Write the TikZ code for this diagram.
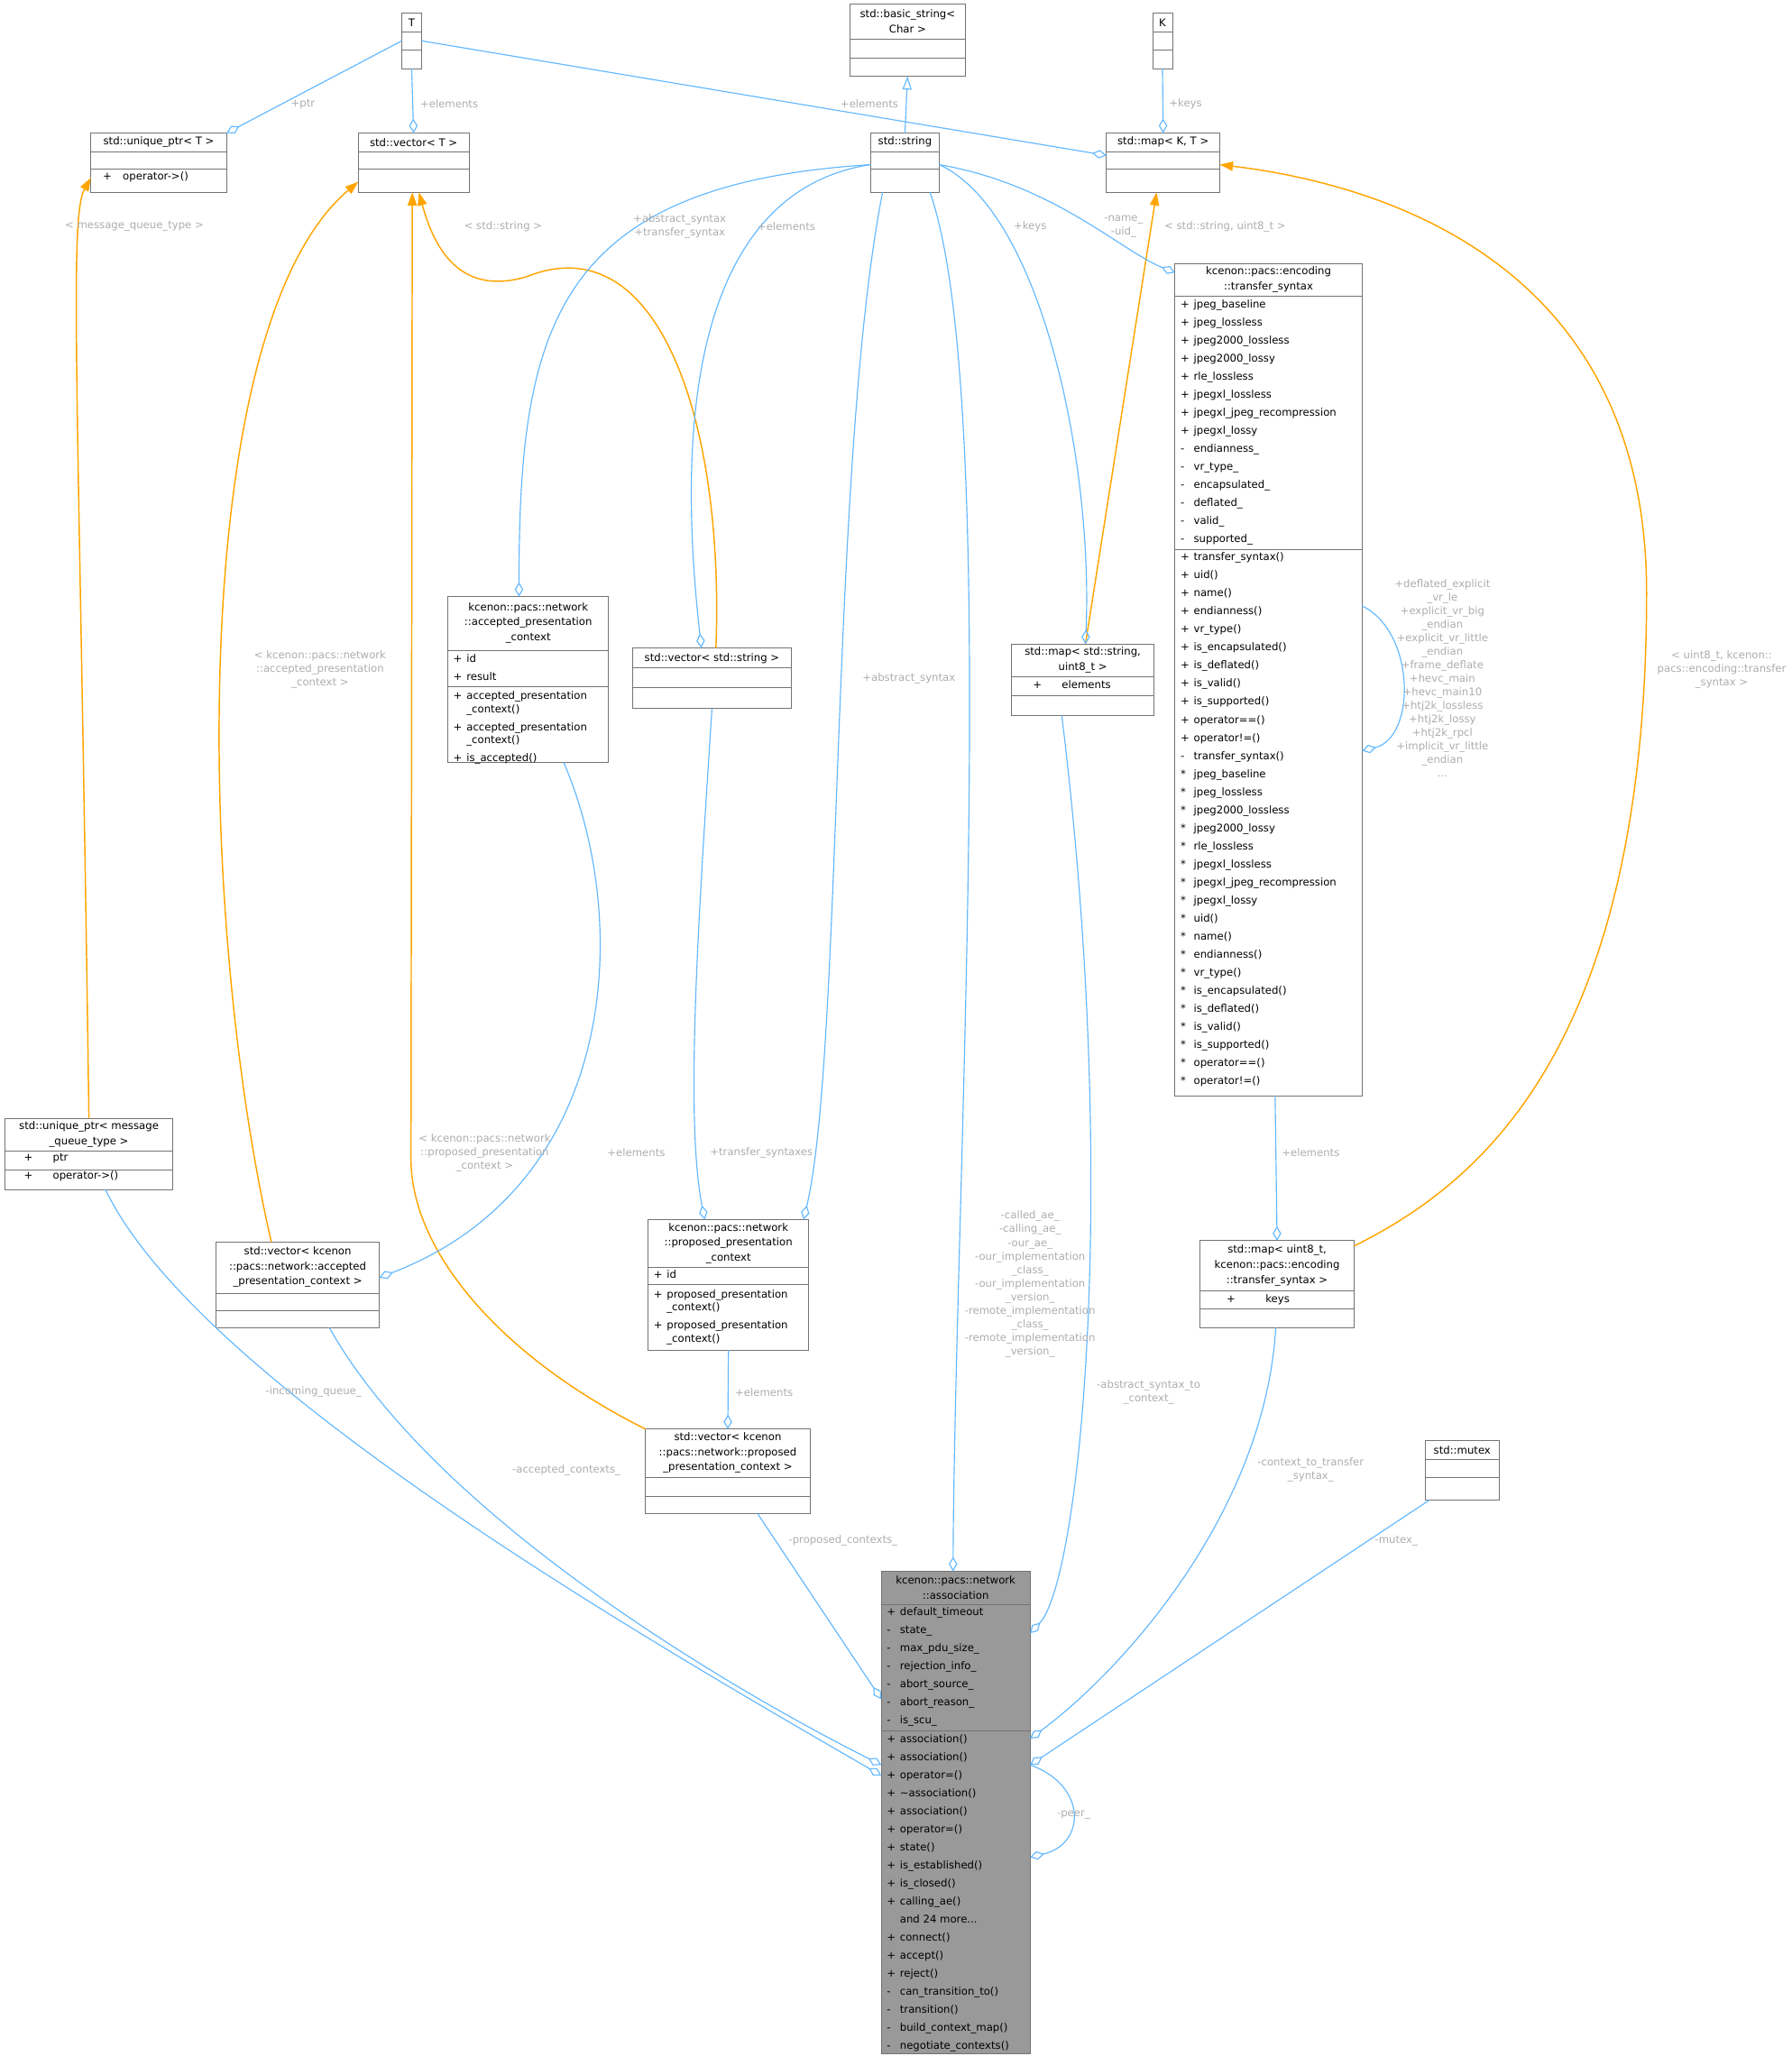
\documentclass[tikz,border=0pt]{standalone}
\usepackage{fontspec}
\setmainfont{DejaVu Sans}
\usetikzlibrary{arrows.meta}
\definecolor{edgeblue}{RGB}{99,184,255}
\definecolor{tmplorange}{RGB}{255,165,0}
\tikzset{box/.style={draw=black!55,line width=0.6pt,inner sep=0pt,outer sep=0pt,fill=white},
	ttl/.style={align=center,inner sep=0pt,font=\fontsize{8}{11.5}\selectfont},
	mem/.style={align=left,inner sep=0pt,anchor=north west,font=\fontsize{8}{13.7}\selectfont},
	lbl/.style={align=center,inner sep=0pt,text=black!32,font=\fontsize{8}{10.3}\selectfont},
	agg/.style={draw=edgeblue,line width=0.8pt,-{Diamond[open,length=11pt,width=6.5pt]}},
	tmpl/.style={draw=tmplorange,line width=1pt,-{Triangle[length=10pt,width=7pt]}},
	inh/.style={draw=edgeblue,line width=0.8pt,-{Triangle[open,length=10pt,width=7pt]}}}
\newcommand\ukls[5]{\node[box,minimum width={(#4-#2)*1pt},minimum height={(#5-#3)*1pt}] (#1) at ({(#2+#4)/2},{(#3+#5)/2}) {};}
\newcommand\ttl[4]{\node[ttl] at ({(#1+#2)/2},{#3}) {#4};}
\newcommand\sep[3]{\draw[black!55,line width=0.6pt] (#1,#3) -- (#2,#3);}
\newcommand\mem[3]{\node[mem] at (#1,{#2+2.5}) {#3};}
\newcommand\m[2]{\makebox[10pt][l]{#1}#2}
\begin{document}
\begin{tikzpicture}[x=1pt,y=-1pt]
\useasboundingbox (0,0) rectangle (1360,1561);
% classes
\ukls{T}{305}{10}{320}{52}\ttl{305}{320}{17}{T}\sep{305}{320}{24}\sep{305}{320}{38}
\ukls{bstr}{645}{3}{733}{58}\ttl{645}{733}{16}{std::basic\_string<\\Char >}\sep{645}{733}{30}\sep{645}{733}{44}
\ukls{K}{875}{10}{890}{52}\ttl{875}{890}{17}{K}\sep{875}{890}{24}\sep{875}{890}{38}
\ukls{uptr}{69}{101}{172}{146}\ttl{69}{172}{108}{std::unique\_ptr< T >}\sep{69}{172}{115}\sep{69}{172}{128}
\mem{78}{128}{\m{+}{\ \ operator->()}}
\ukls{vecT}{272}{101}{356}{146}\ttl{272}{356}{108}{std::vector< T >}\sep{272}{356}{115}\sep{272}{356}{128}
\ukls{str}{661}{101}{713}{146}\ttl{661}{713}{108}{std::string}\sep{661}{713}{115}\sep{661}{713}{128}
\ukls{mapKT}{840}{101}{926}{146}\ttl{840}{926}{108}{std::map< K, T >}\sep{840}{926}{115}\sep{840}{926}{128}
\ukls{ts}{892}{200}{1034}{832}\ttl{892}{1034}{212}{kcenon::pacs::encoding\\::transfer\_syntax}\sep{892}{1034}{225}\sep{892}{1034}{417}
\mem{896}{225}{\m{+}{jpeg\_baseline}\\\m{+}{jpeg\_lossless}\\\m{+}{jpeg2000\_lossless}\\\m{+}{jpeg2000\_lossy}\\\m{+}{rle\_lossless}\\\m{+}{jpegxl\_lossless}\\\m{+}{jpegxl\_jpeg\_recompression}\\\m{+}{jpegxl\_lossy}\\\m{-}{endianness\_}\\\m{-}{vr\_type\_}\\\m{-}{encapsulated\_}\\\m{-}{deflated\_}\\\m{-}{valid\_}\\\m{-}{supported\_}}
\mem{896}{417}{\m{+}{transfer\_syntax()}\\\m{+}{uid()}\\\m{+}{name()}\\\m{+}{endianness()}\\\m{+}{vr\_type()}\\\m{+}{is\_encapsulated()}\\\m{+}{is\_deflated()}\\\m{+}{is\_valid()}\\\m{+}{is\_supported()}\\\m{+}{operator==()}\\\m{+}{operator!=()}\\\m{-}{transfer\_syntax()}\\\m{*}{jpeg\_baseline}\\\m{*}{jpeg\_lossless}\\\m{*}{jpeg2000\_lossless}\\\m{*}{jpeg2000\_lossy}\\\m{*}{rle\_lossless}\\\m{*}{jpegxl\_lossless}\\\m{*}{jpegxl\_jpeg\_recompression}\\\m{*}{jpegxl\_lossy}\\\m{*}{uid()}\\\m{*}{name()}\\\m{*}{endianness()}\\\m{*}{vr\_type()}\\\m{*}{is\_encapsulated()}\\\m{*}{is\_deflated()}\\\m{*}{is\_valid()}\\\m{*}{is\_supported()}\\\m{*}{operator==()}\\\m{*}{operator!=()}}
\ukls{acc}{340}{453}{462}{579}\ttl{340}{462}{473}{kcenon::pacs::network\\::accepted\_presentation\\\_context}\sep{340}{462}{494}\sep{340}{462}{521}
\mem{344}{494}{\m{+}{id}\\\m{+}{result}}
\node[mem,font=\fontsize{8}{10}\selectfont] at (344,525) {\m{+}{accepted\_presentation}\\\m{}{\_context()}\\[3.5pt]\m{+}{accepted\_presentation}\\\m{}{\_context()}\\[3.5pt]\m{+}{is\_accepted()}};
\ukls{vecstr}{480}{492}{601}{538}\ttl{480}{601}{500}{std::vector< std::string >}\sep{480}{601}{507}\sep{480}{601}{522}
\ukls{maps}{768}{489}{876}{543}\ttl{768}{876}{501}{std::map< std::string,\\uint8\_t >}\sep{768}{876}{514}\sep{768}{876}{528}
\mem{784}{514}{+\ \ \ \ \ \ elements}
\ukls{uptrmq}{4}{849}{131}{903}\ttl{4}{131}{861}{std::unique\_ptr< message\\\_queue\_type >}\sep{4}{131}{874}\sep{4}{131}{888}
\mem{18}{873}{+\ \ \ \ \ \ ptr\\+\ \ \ \ \ \ operator->()}
\ukls{vecacc}{164}{943}{288}{1008}\ttl{164}{288}{962}{std::vector< kcenon\\::pacs::network::accepted\\\_presentation\_context >}\sep{164}{288}{982}\sep{164}{288}{995}
\ukls{prop}{492}{926}{614}{1025}\ttl{492}{614}{944}{kcenon::pacs::network\\::proposed\_presentation\\\_context}\sep{492}{614}{962}\sep{492}{614}{975}
\mem{496}{962}{\m{+}{id}}
\node[mem,font=\fontsize{8}{10}\selectfont] at (496,979) {\m{+}{proposed\_presentation}\\\m{}{\_context()}\\[3.5pt]\m{+}{proposed\_presentation}\\\m{}{\_context()}};
\ukls{mapu}{911}{942}{1028}{1008}\ttl{911}{1028}{961}{std::map< uint8\_t,\\kcenon::pacs::encoding\\::transfer\_syntax >}\sep{911}{1028}{980}\sep{911}{1028}{994}
\mem{931}{980}{+\ \ \ \ \ \ \ \ \ keys}
\ukls{vecprop}{490}{1085}{615}{1149}\ttl{490}{615}{1103}{std::vector< kcenon\\::pacs::network::proposed\\\_presentation\_context >}\sep{490}{615}{1122}\sep{490}{615}{1136}
\ukls{mtx}{1082}{1094}{1138}{1139}\ttl{1082}{1138}{1101}{std::mutex}\sep{1082}{1138}{1108}\sep{1082}{1138}{1122}
\node[box,fill=black!40,minimum width=113pt,minimum height=366pt] (asc) at (725.5,1376) {};
\ttl{669}{782}{1205.5}{kcenon::pacs::network\\::association}\sep{669}{782}{1218}\sep{669}{782}{1314}
\mem{673}{1218}{\m{+}{default\_timeout}\\\m{-}{state\_}\\\m{-}{max\_pdu\_size\_}\\\m{-}{rejection\_info\_}\\\m{-}{abort\_source\_}\\\m{-}{abort\_reason\_}\\\m{-}{is\_scu\_}}
\mem{673}{1314}{\m{+}{association()}\\\m{+}{association()}\\\m{+}{operator=()}\\\m{+}{\textasciitilde association()}\\\m{+}{association()}\\\m{+}{operator=()}\\\m{+}{state()}\\\m{+}{is\_established()}\\\m{+}{is\_closed()}\\\m{+}{calling\_ae()}\\\m{}{and 24 more...}\\\m{+}{connect()}\\\m{+}{accept()}\\\m{+}{reject()}\\\m{-}{can\_transition\_to()}\\\m{-}{transition()}\\\m{-}{build\_context\_map()}\\\m{-}{negotiate\_contexts()}}
% connectors
\draw[agg] (T.west) -- (uptr.north east);
\draw[agg] (T.south) -- (vecT.north);
\draw[agg] (T.east) -- ([yshift=-17pt]mapKT.north west);
\draw[inh] (str.north) -- (bstr.south);
\draw[agg] (K.south) -- (mapKT.north);
\draw[tmpl] (uptrmq.north) .. controls (60,300) and (52,165) .. ([yshift=-34pt]uptr.north west);
\draw[tmpl] ([xshift=-20pt]vecacc.north) .. controls (150,700) and (140,250) .. ([yshift=-37pt]vecT.north west);
\draw[tmpl] (vecprop.north west) .. controls (380,1030) and (312,950) .. (312,880) -- ([xshift=-1pt]vecT.south);
\draw[tmpl] ([xshift=3pt]vecstr.north) .. controls (550,320) and (500,170) .. (400,210) .. controls (350,225) and (330,190) .. ([xshift=4pt]vecT.south);
\draw[tmpl] ([xshift=2pt]maps.north) -- ([xshift=-5pt]mapKT.south);
\draw[tmpl] ([yshift=-4pt]mapu.north east) .. controls (1120,900) and (1250,800) .. (1250,450) .. controls (1250,200) and (1050,140) .. ([yshift=-24pt]mapKT.north east);
\draw[agg] ([yshift=-24pt]str.north west) .. controls (420,140) and (394,250) .. ([xshift=-7pt]acc.north);
\draw[agg] ([yshift=-24pt]str.north west) .. controls (560,140) and (505,250) .. ([xshift=-8pt]vecstr.north);
\draw[agg] ([xshift=9pt]str.south west) .. controls (630,350) and (640,800) .. ([xshift=-4pt]prop.north east);
\draw[agg] ([xshift=-7pt]str.south east) .. controls (760,300) and (725,900) .. ([xshift=-2pt]asc.north);
\draw[agg] ([yshift=-24pt]str.north east) .. controls (790,160) and (830,350) .. ([xshift=2pt]maps.north);
\draw[agg] ([yshift=-24pt]str.north east) .. controls (800,140) and (850,190) .. ([yshift=-7pt]ts.north west);
\draw[agg] ([yshift=-260pt]ts.north east) .. controls (1075,480) and (1075,560) .. ([yshift=-370pt]ts.north east);
\draw[agg] ([xshift=5pt]ts.south) -- (mapu.north);
\draw[agg] (vecstr.south) .. controls (530,700) and (520,850) .. ([xshift=-18pt]prop.north);
\draw[agg] ([xshift=27pt]acc.south) .. controls (480,700) and (470,900) .. ([yshift=-27pt]vecacc.north east);
\draw[agg] (prop.south) -- (vecprop.north);
\draw[agg] ([xshift=76pt]uptrmq.south west) .. controls (150,1050) and (500,1250) .. ([yshift=-155pt]asc.north west);
\draw[agg] ([xshift=-38pt]vecacc.south east) .. controls (330,1150) and (550,1280) .. ([yshift=-147pt]asc.north west);
\draw[agg] ([xshift=-40pt]vecprop.south east) -- ([yshift=-97pt]asc.north west);
\draw[agg] ([xshift=-16pt]maps.south) .. controls (850,900) and (820,1200) .. ([yshift=-47pt]asc.north east);
\draw[agg] ([xshift=-1pt]mapu.south) .. controls (960,1150) and (850,1270) .. ([yshift=-127pt]asc.north east);
\draw[agg] ([xshift=3pt]mtx.south west) -- ([yshift=-147pt]asc.north east);
\draw[agg] ([yshift=-147pt]asc.north east) .. controls (825,1355) and (825,1400) .. ([yshift=-217pt]asc.north east);
% labels
\node[lbl] (lptr) at (230,79) {+ptr};
\node[lbl] (lel1) at (341,79) {+elements};
\node[lbl] (lel2) at (660,79) {+elements};
\node[lbl] (lkeys1) at (900,79) {+keys};
\node[lbl] (lmq) at (102,172) {< message\_queue\_type >};
\node[lbl] (lstrt) at (382,172) {< std::string >};
\node[lbl] (labs) at (516,172) {+abstract\_syntax\\+transfer\_syntax};
\node[lbl] (lel3) at (597,172) {+elements};
\node[lbl] (lkeys2) at (782,172) {+keys};
\node[lbl] (lname) at (853,172) {-name\_\\-uid\_};
\node[lbl] (lsu) at (930,172) {< std::string, uint8\_t >};
\node[lbl] (lacct) at (243,508) {< kcenon::pacs::network\\::accepted\_presentation\\\_context >};
\node[lbl] (labs2) at (690,515) {+abstract\_syntax};
\node[lbl] (lloop) at (1095,515) {+deflated\_explicit\\\_vr\_le\\+explicit\_vr\_big\\\_endian\\+explicit\_vr\_little\\\_endian\\+frame\_deflate\\+hevc\_main\\+hevc\_main10\\+htj2k\_lossless\\+htj2k\_lossy\\+htj2k\_rpcl\\+implicit\_vr\_little\\\_endian\\...};
\node[lbl] (lut) at (1307,508) {< uint8\_t, kcenon::\\pacs::encoding::transfer\\\_syntax >};
\node[lbl] (lpropt) at (368,875) {< kcenon::pacs::network\\::proposed\_presentation\\\_context >};
\node[lbl] (lel4) at (483,875) {+elements};
\node[lbl] (ltsx) at (578,875) {+transfer\_syntaxes};
\node[lbl] (lel5) at (995,875) {+elements};
\node[lbl] (lae) at (782,975) {-called\_ae\_\\-calling\_ae\_\\-our\_ae\_\\-our\_implementation\\\_class\_\\-our\_implementation\\\_version\_\\-remote\_implementation\\\_class\_\\-remote\_implementation\\\_version\_};
\node[lbl] (lel6) at (580,1057) {+elements};
\node[lbl] (linq) at (238,1057) {-incoming\_queue\_};
\node[lbl] (lastc) at (872,1057) {-abstract\_syntax\_to\\\_context\_};
\node[lbl] (lacc) at (430,1116) {-accepted\_contexts\_};
\node[lbl] (lctx) at (995,1116) {-context\_to\_transfer\\\_syntax\_};
\node[lbl] (lprop) at (640,1170) {-proposed\_contexts\_};
\node[lbl] (lmtx) at (1060,1170) {-mutex\_};
\node[lbl] (lpeer) at (815,1378) {-peer\_};
\end{tikzpicture}
\end{document}
